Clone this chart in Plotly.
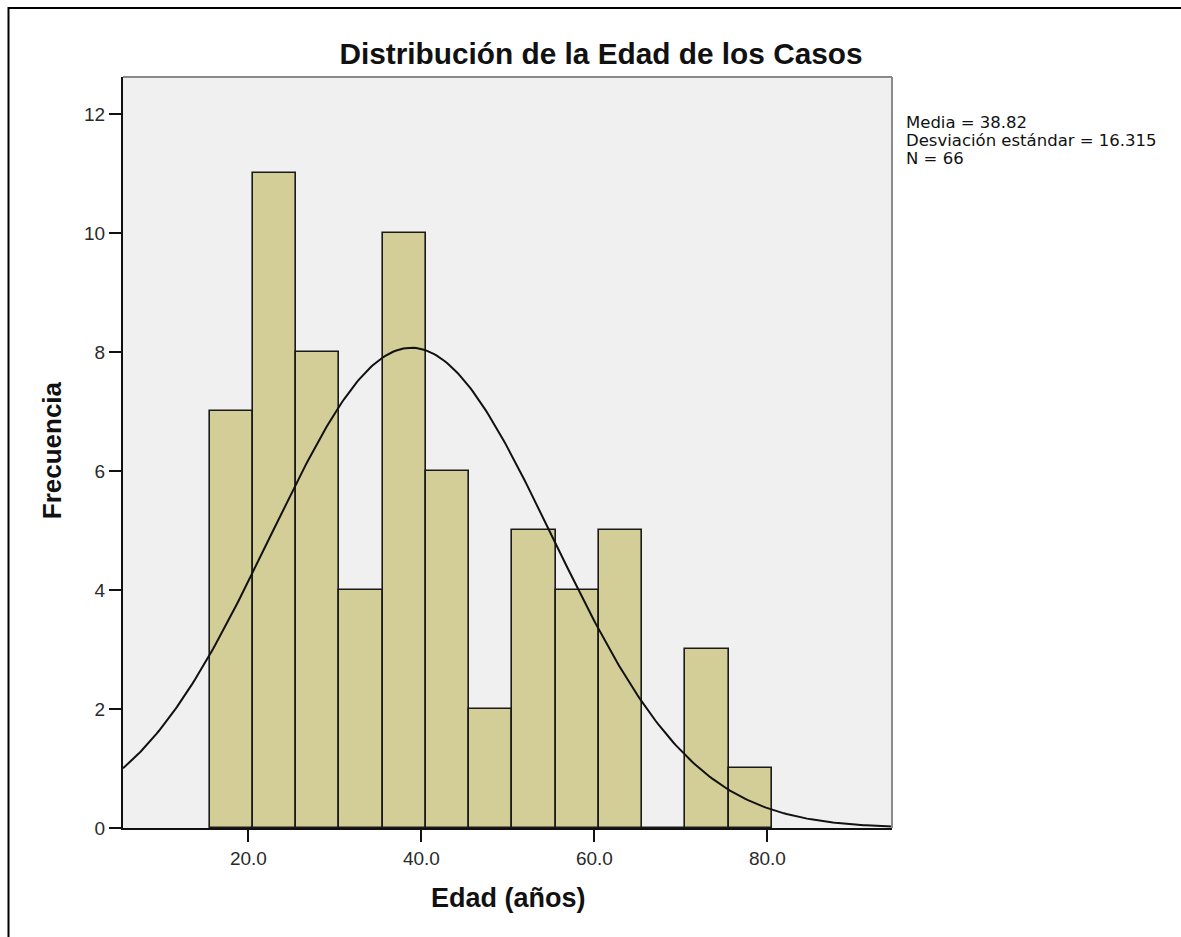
import numpy as np
import plotly.graph_objects as go

# ---- data ----
bin_centers = [18, 23, 28, 33, 38, 43, 48, 53, 58, 63, 68, 73, 78]
counts = [7, 11, 8, 4, 10, 6, 2, 5, 4, 5, 0, 3, 1]
BIN_WIDTH = 5
MEAN = 38.82
SD = 16.315
N = 66
x_ticks = [20, 40, 60, 80]
x_tick_labels = ["20.0", "40.0", "60.0", "80.0"]
y_ticks = [0, 2, 4, 6, 8, 10, 12]
stats_lines = ["Media = 38.82", "Desviación estándar = 16.315", "N = 66"]

# ---- layout geometry (px) ----
W, H = 1181, 937
L, R, T, B = 123, 892, 76.5, 828
pw, ph = R - L, B - T

def px_x(p):
    return (p - L) / pw

def px_y(p):
    return (B - p) / ph

# fitted normal curve (from the stats shown on the chart)
xc = np.linspace(5.5, 94.4, 300)
yc = N * BIN_WIDTH / (SD * np.sqrt(2 * np.pi)) * np.exp(-0.5 * ((xc - MEAN) / SD) ** 2)

fig = go.Figure()
fig.add_trace(go.Bar(
    x=bin_centers, y=counts, width=BIN_WIDTH,
    marker=dict(color="#D3CE98", line=dict(color="#1a1a1a", width=1.6)),
    showlegend=False, hoverinfo="x+y",
))
fig.add_trace(go.Scatter(
    x=xc, y=yc, mode="lines", line=dict(color="#111111", width=2),
    showlegend=False, hoverinfo="skip",
))

font_tick = dict(family="Liberation Sans, Arial, sans-serif", size=19, color="#2a2a2a")

stat_annots = []
for i, s in enumerate(stats_lines):
    stat_annots.append(dict(
        text=s, xref="paper", yref="paper", x=px_x(904), y=px_y(122 + 18 * i),
        xanchor="left", yanchor="middle", align="left", showarrow=False,
        font=dict(family="DejaVu Sans, sans-serif", size=16.5, color="#111111")))

fig.update_layout(
    width=W, height=H,
    margin=dict(l=L, r=W - R, t=T, b=H - B, pad=0),
    paper_bgcolor="white",
    plot_bgcolor="#F0F0F0",
    bargap=0,
    title=dict(
        text="<b>Distribución de la Edad de los Casos</b>",
        font=dict(family="Liberation Sans, Arial, sans-serif", size=29.8, color="#111111"),
        x=601 / W, xref="container", xanchor="center",
        y=1 - 54 / H, yref="container", yanchor="middle",
    ),
    xaxis=dict(
        range=[5.5, 94.4], tickvals=x_ticks, ticktext=x_tick_labels,
        showgrid=False, zeroline=False,
        showline=True, linecolor="#111111", linewidth=2,
        ticks="outside", ticklen=12, tickwidth=2, tickcolor="#111111",
        tickfont=font_tick,
    ),
    yaxis=dict(
        range=[0, 12.62], tickvals=y_ticks,
        showgrid=False, zeroline=False,
        showline=True, linecolor="#111111", linewidth=2,
        ticks="outside", ticklen=12, tickwidth=2, tickcolor="#111111",
        tickfont=font_tick,
    ),
    shapes=[
        dict(type="line", xref="paper", yref="paper", x0=0, x1=1, y0=1, y1=1,
             line=dict(color="#8a8a8a", width=2)),
        dict(type="line", xref="paper", yref="paper", x0=1, x1=1, y0=0, y1=1,
             line=dict(color="#8a8a8a", width=2)),
        dict(type="rect", xref="paper", yref="paper",
             x0=px_x(8.5), x1=px_x(1200), y0=px_y(960), y1=px_y(7.5),
             line=dict(color="#000000", width=2), fillcolor="rgba(0,0,0,0)", layer="above"),
    ],
    annotations=[
        dict(text="<b>Frecuencia</b>", xref="paper", yref="paper",
             x=px_x(52), y=px_y(450), xanchor="center", yanchor="middle",
             textangle=-90, showarrow=False,
             font=dict(family="Liberation Sans, Arial, sans-serif", size=26, color="#111111")),
        dict(text="<b>Edad (años)</b>", xref="paper", yref="paper",
             x=px_x(508), y=px_y(898), xanchor="center", yanchor="middle",
             showarrow=False,
             font=dict(family="Liberation Sans, Arial, sans-serif", size=27, color="#111111")),
    ] + stat_annots,
)

fig.write_html("out.html", config={"displayModeBar": False},
               post_script="document.body.style.margin='0';")
